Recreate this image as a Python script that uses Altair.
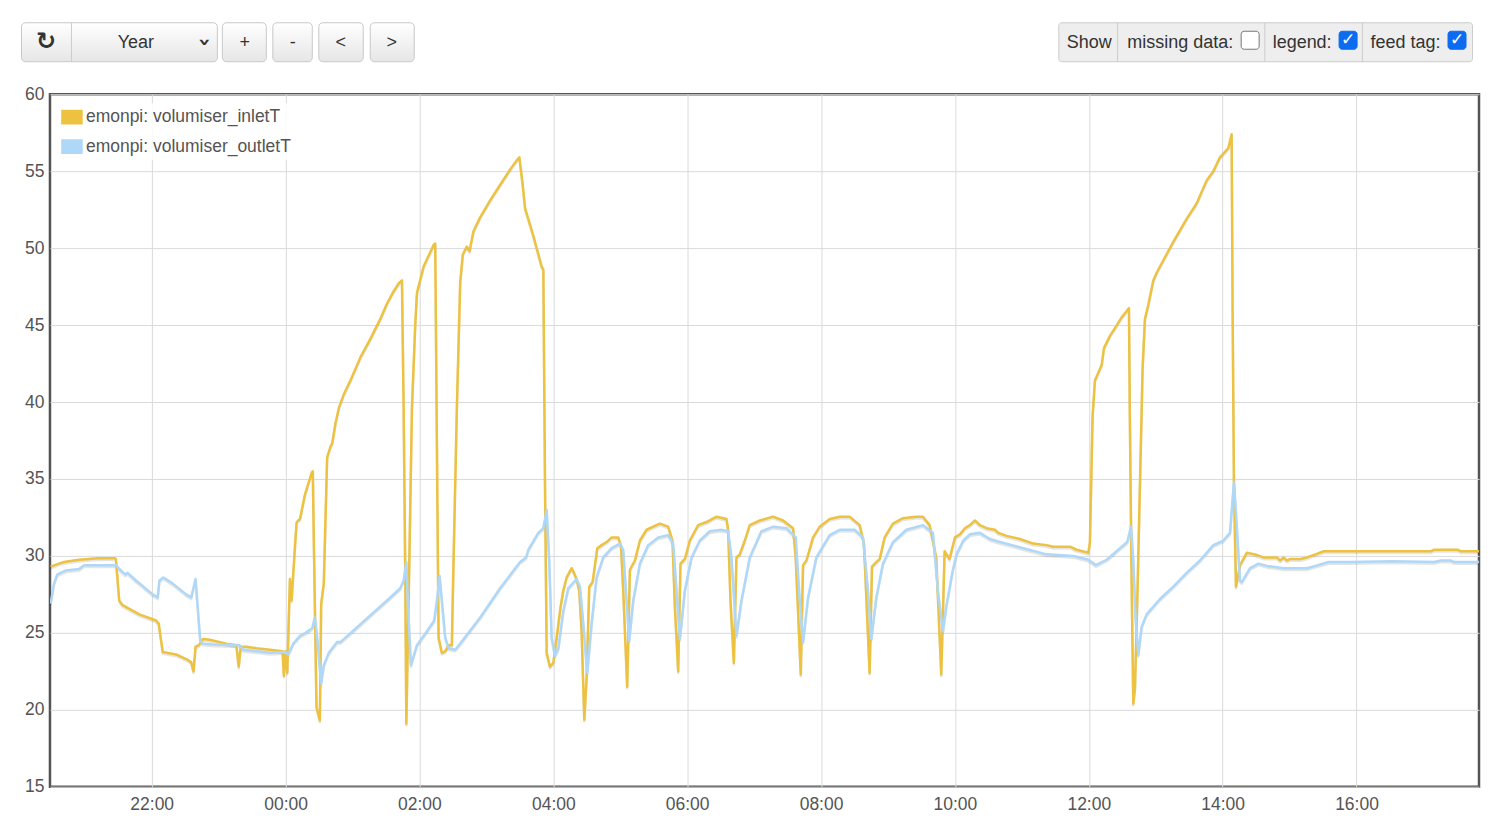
import altair as alt
import pandas as pd

# ---------------- data (hours relative to midnight, values in degC) ----------------
inlet_h = [-3.51, -3.385, -3.31, -3.085, -2.81, -2.56, -2.535, -2.485, -2.435, -2.185,
           -1.935, -1.895, -1.835, -1.635, -1.485, -1.41, -1.375, -1.345, -1.295, -1.235,
           -1.135, -0.885, -0.735, -0.70, -0.67, -0.585, -0.435, -0.235, -0.045, -0.025,
           -0.005, 0.025, 0.065, 0.09, 0.14, 0.165, 0.215, 0.29, 0.39, 0.407,
           0.422, 0.462, 0.512, 0.532, 0.571, 0.621, 0.671, 0.696, 0.745, 0.795,
           0.870, 0.969, 1.118, 1.267, 1.416, 1.516, 1.615, 1.689, 1.739, 1.764,
           1.789, 1.804, 1.839, 1.888, 1.938, 1.963, 2.062, 2.137, 2.211, 2.236,
           2.261, 2.286, 2.335, 2.385, 2.435, 2.484, 2.509, 2.559, 2.609, 2.648,
           2.708, 2.748, 2.807, 2.907, 3.056, 3.205, 3.354, 3.453, 3.493, 3.543,
           3.578, 3.702, 3.826, 3.851, 3.876, 3.901, 3.950, 4.0, 4.05, 4.109,
           4.149, 4.199, 4.274, 4.299, 4.348, 4.388, 4.423, 4.463, 4.498, 4.537,
           4.587, 4.657, 4.721, 4.796, 4.871, 4.970, 5.010, 5.045, 5.104, 5.144,
           5.219, 5.294, 5.393, 5.493, 5.592, 5.716, 5.781, 5.816, 5.866, 5.900,
           5.965, 6.040, 6.164, 6.289, 6.438, 6.587, 6.612, 6.647, 6.697, 6.736,
           6.786, 6.861, 6.935, 7.085, 7.284, 7.433, 7.582, 7.622, 7.697, 7.731,
           7.781, 7.881, 7.980, 8.129, 8.279, 8.428, 8.577, 8.642, 8.677, 8.726,
           8.761, 8.826, 8.876, 8.950, 9.075, 9.224, 9.423, 9.522, 9.622, 9.721,
           9.796, 9.846, 9.920, 10.0, 10.075, 10.149, 10.224, 10.299, 10.374, 10.473,
           10.598, 10.648, 10.772, 10.971, 11.171, 11.370, 11.469, 11.719, 11.818, 11.993,
           12.017, 12.057, 12.092, 12.142, 12.192, 12.227, 12.316, 12.391, 12.491, 12.565,
           12.600, 12.615, 12.640, 12.665, 12.690, 12.725, 12.765, 12.804, 12.839, 12.889,
           12.964, 13.014, 13.163, 13.263, 13.462, 13.611, 13.761, 13.861, 13.960, 14.085,
           14.134, 14.149, 14.169, 14.199, 14.26, 14.36, 14.485, 14.61, 14.81, 14.86,
           14.91, 14.96, 15.01, 15.16, 15.26, 15.385, 15.51, 15.71, 16.16, 16.66,
           17.11, 17.16, 17.51, 17.56, 17.83]
inlet_v = [29.3, 29.5, 29.6, 29.75, 29.85, 29.85, 29.8, 27.1, 26.8, 26.2,
           25.8, 25.6, 23.75, 23.6, 23.3, 23.1, 22.5, 24.1, 24.2, 24.6,
           24.55, 24.3, 24.2, 22.8, 24.1, 24.1, 24.0, 23.9, 23.8, 22.2,
           23.8, 22.4, 28.5, 27.1, 30.6, 32.2, 32.4, 34.0, 35.4, 35.5,
           31.0, 20.2, 19.3, 26.9, 28.2, 36.4, 37.1, 37.3, 38.6, 39.6,
           40.5, 41.4, 42.9, 44.1, 45.4, 46.4, 47.2, 47.7, 47.9, 39.6,
           28.4, 19.1, 27.2, 39.6, 45.1, 47.1, 48.8, 49.5, 50.2, 50.3,
           37.1, 24.7, 23.7, 23.8, 24.2, 24.2, 29.6, 39.6, 47.8, 49.6,
           50.1, 49.8, 51.1, 52.0, 53.1, 54.1, 55.1, 55.7, 55.9, 54.1,
           52.6, 50.8, 48.8, 48.6, 34.6, 23.7, 22.8, 23.05, 24.7, 26.7,
           27.75, 28.6, 29.2, 29.0, 28.5, 27.75, 25.1, 19.35, 22.1, 28.0,
           28.3, 30.5, 30.7, 30.9, 31.2, 31.2, 30.7, 27.75, 21.5, 29.1,
           29.7, 31.0, 31.7, 31.9, 32.1, 31.9, 31.0, 26.7, 22.5, 29.5,
           29.8, 31.0, 32.0, 32.2, 32.55, 32.4, 31.7, 27.1, 23.05, 29.9,
           30.1, 31.0, 32.0, 32.3, 32.55, 32.3, 31.8, 29.9, 22.3, 29.4,
           29.7, 31.2, 31.9, 32.4, 32.55, 32.55, 32.0, 30.8, 27.3, 22.4,
           29.3, 29.6, 29.8, 31.2, 32.1, 32.45, 32.55, 32.55, 32.0, 29.9,
           22.3, 30.3, 29.8, 31.2, 31.4, 31.8, 32.0, 32.3, 32.0, 31.8,
           31.7, 31.5, 31.3, 31.1, 30.8, 30.7, 30.6, 30.6, 30.4, 30.2,
           30.9, 39.1, 41.4, 41.9, 42.4, 43.5, 44.3, 44.8, 45.5, 45.9,
           46.1, 38.4, 28.4, 20.4, 21.4, 27.2, 34.7, 42.2, 45.4, 46.3,
           47.9, 48.4, 49.6, 50.4, 51.9, 52.9, 54.4, 55.0, 55.9, 56.5,
           57.4, 45.9, 34.7, 28.0, 29.4, 30.2, 30.1, 29.9, 29.9, 29.7,
           29.9, 29.7, 29.8, 29.8, 29.9, 30.1, 30.3, 30.3, 30.3, 30.3,
           30.3, 30.4, 30.4, 30.3, 30.3]

outlet_h = [-3.51, -3.46, -3.41, -3.285, -3.085, -3.01, -2.535, -2.46, -2.395, -2.36,
            -2.235, -1.985, -1.91, -1.885, -1.825, -1.685, -1.485, -1.41, -1.345, -1.31,
            -1.275, -1.235, -1.085, -0.685, -0.635, -0.235, -0.01, 0.04, 0.115, 0.215,
            0.298, 0.398, 0.437, 0.472, 0.532, 0.571, 0.646, 0.770, 0.820, 1.565,
            1.714, 1.764, 1.804, 1.839, 1.873, 1.963, 2.112, 2.221, 2.261, 2.301,
            2.335, 2.385, 2.435, 2.534, 2.609, 2.907, 3.205, 3.503, 3.593, 3.627,
            3.776, 3.851, 3.901, 3.940, 3.975, 4.025, 4.075, 4.149, 4.224, 4.348,
            4.398, 4.448, 4.507, 4.572, 4.647, 4.746, 4.871, 4.995, 5.045, 5.085,
            5.134, 5.194, 5.294, 5.418, 5.567, 5.716, 5.791, 5.841, 5.891, 5.965,
            6.065, 6.189, 6.338, 6.512, 6.612, 6.662, 6.736, 6.811, 6.935, 7.109,
            7.284, 7.483, 7.622, 7.672, 7.731, 7.806, 7.930, 8.129, 8.279, 8.502,
            8.627, 8.701, 8.751, 8.826, 8.925, 9.075, 9.274, 9.522, 9.672, 9.746,
            9.821, 9.871, 9.970, 10.025, 10.125, 10.224, 10.374, 10.523, 10.672, 11.021,
            11.370, 11.768, 11.993, 12.107, 12.267, 12.466, 12.575, 12.630, 12.665, 12.700,
            12.740, 12.790, 12.864, 13.064, 13.263, 13.462, 13.661, 13.861, 14.010, 14.110,
            14.169, 14.209, 14.259, 14.285, 14.41, 14.535, 14.66, 14.91, 15.26, 15.385,
            15.585, 15.91, 16.535, 17.16, 17.26, 17.41, 17.46, 17.83]
outlet_v = [26.9, 28.2, 28.8, 29.05, 29.15, 29.4, 29.4, 29.05, 28.8, 28.9,
            28.4, 27.5, 27.3, 28.4, 28.6, 28.2, 27.5, 27.3, 28.5, 26.5,
            24.5, 24.3, 24.25, 24.2, 23.9, 23.7, 23.75, 23.6, 24.3, 24.8,
            25.0, 25.3, 26.0, 24.7, 21.7, 22.9, 23.7, 24.4, 24.4, 27.3,
            27.9, 28.4, 29.6, 25.9, 22.9, 24.2, 25.1, 25.8, 27.1, 28.7,
            27.1, 24.7, 24.0, 23.9, 24.3, 26.0, 27.9, 29.6, 29.9, 30.4,
            31.5, 31.8, 33.0, 29.6, 24.7, 23.5, 24.0, 26.4, 27.9, 28.5,
            28.0, 25.6, 22.4, 25.6, 28.6, 29.9, 30.5, 30.8, 30.4, 27.75,
            24.5, 27.1, 29.5, 30.7, 31.2, 31.35, 30.8, 27.75, 24.6, 27.75,
            29.9, 31.0, 31.6, 31.7, 31.6, 29.9, 24.8, 27.1, 29.9, 31.6,
            31.9, 31.8, 31.2, 27.75, 24.4, 27.3, 29.9, 31.35, 31.7, 31.7,
            31.2, 27.75, 24.6, 27.3, 29.5, 30.9, 31.7, 32.0, 31.5, 27.75,
            25.1, 26.7, 29.1, 30.1, 31.0, 31.4, 31.5, 31.1, 30.9, 30.5,
            30.1, 30.0, 29.75, 29.4, 29.75, 30.5, 30.9, 31.9, 29.7, 25.9,
            23.55, 25.4, 26.2, 27.2, 28.0, 28.9, 29.7, 30.7, 31.0, 31.5,
            34.8, 32.1, 28.4, 28.3, 29.2, 29.5, 29.35, 29.2, 29.2, 29.35,
            29.6, 29.6, 29.65, 29.6, 29.7, 29.7, 29.6, 29.6]

series_names = ["emonpi: volumiser_inletT", "emonpi: volumiser_outletT"]
series_colors = ["#edc240", "#afd8f8"]
y_ticks = [15, 20, 25, 30, 35, 40, 45, 50, 55, 60]

midnight = pd.Timestamp("2024-01-15 00:00:00")


def frame(hours, values, name):
    return pd.DataFrame({
        "time": midnight + pd.to_timedelta(hours, unit="h"),
        "value": values,
        "series": name,
    })


df = pd.concat([frame(inlet_h, inlet_v, series_names[0]),
                frame(outlet_h, outlet_v, series_names[1])], ignore_index=True)

x_values = [alt.DateTime(year=2024, month=1, date=14, hours=22)] + [
    alt.DateTime(year=2024, month=1, date=15, hours=h) for h in range(0, 17, 2)]
x_domain = [alt.DateTime(year=2024, month=1, date=14, hours=20, minutes=28, seconds=48),
            alt.DateTime(year=2024, month=1, date=15, hours=17, minutes=49, seconds=48)]

FONT = "Liberation Sans"

x_enc = alt.X("time:T", scale=alt.Scale(domain=x_domain),
              axis=alt.Axis(values=x_values, format="%H:%M", title=None,
                            labelPadding=9))
y_enc = alt.Y("value:Q", scale=alt.Scale(domain=[15, 60], nice=False, zero=False),
              axis=alt.Axis(values=y_ticks, title=None, labelPadding=6))

color_scale = alt.Scale(domain=series_names, range=series_colors)

# legend carrier: filled swatches (no rows drawn, only the legend)
legend_layer = alt.Chart(df).transform_filter("false").mark_rect(
    opacity=1, stroke="#c4c4c4", strokeWidth=1.5
).encode(
    x=x_enc, y=y_enc,
    fill=alt.Fill(
        "series:N", scale=color_scale,
        legend=alt.Legend(
            title=None, orient="none", legendX=8, legendY=9,
            symbolType="M-1,-0.66H1V0.66H-1Z", symbolSize=400,
            symbolStrokeColor="#c4c4c4", symbolStrokeWidth=1.5, symbolOpacity=1,
            labelFont=FONT, labelFontSize=17.5, labelColor="#545454",
            labelOffset=3, labelLimit=0, rowPadding=8.5, padding=3,
            fillColor="rgba(255,255,255,0.85)",
        ),
    ),
)

shadow = alt.Chart(df).mark_line(
    color="#000000", opacity=0.1, strokeWidth=2.4, yOffset=1.8,
    strokeJoin="round", clip=True
).encode(x=x_enc, y=y_enc, detail="series:N")

lines = alt.Chart(df).mark_line(
    strokeWidth=2.5, strokeJoin="round", clip=True
).encode(
    x=x_enc, y=y_enc,
    color=alt.Color("series:N", scale=color_scale, legend=None),
)

# ---------------- toolbar (page chrome above the plot) ----------------
btn = pd.DataFrame({
    "x0": [-28.5, 172.5, 223.0, 269.0, 320.5],
    "x1": [167.5, 216.5, 262.5, 313.5, 364.5],
    "y0": [-71.5] * 5,
    "y1": [-32.5] * 5,
})
grad = alt.Gradient(gradient="linear", x1=0, x2=0, y1=0, y2=1,
                    stops=[alt.GradientStop(color="#ffffff", offset=0),
                           alt.GradientStop(color="#e6e6e6", offset=1)])
buttons = alt.Chart(btn).mark_rect(
    color=grad, stroke="#c8c8c8", strokeWidth=1, cornerRadius=4
).encode(
    x=alt.X("x0:Q", scale=None, axis=None), x2="x1:Q",
    y=alt.Y("y0:Q", scale=None, axis=None), y2="y1:Q",
)

boxes_df = pd.DataFrame({
    "x0": [1009.5, 1192.0, 1290.0, 1399.0],
    "x1": [1423.5, 1210.0, 1308.0, 1417.0],
    "y0": [-71.5, -63.0, -63.0, -63.0],
    "y1": [-32.5, -45.0, -45.0, -45.0],
    "fill": ["#eeeeee", "#ffffff", "#0b6cf0", "#0b6cf0"],
    "stroke": ["#cccccc", "#767676", "#0b6cf0", "#0b6cf0"],
})
boxes = alt.Chart(boxes_df).mark_rect(strokeWidth=1, cornerRadius=3).encode(
    x=alt.X("x0:Q", scale=None, axis=None), x2="x1:Q",
    y=alt.Y("y0:Q", scale=None, axis=None), y2="y1:Q",
    fill=alt.Fill("fill:N", scale=None, legend=None),
    stroke=alt.Stroke("stroke:N", scale=None, legend=None),
)

div_df = pd.DataFrame({
    "x": [21.5, 1068.3, 1215.7, 1313.3],
    "y0": [-71.5] * 4,
    "y1": [-32.5] * 4,
})
dividers = alt.Chart(div_df).mark_rule(color="#cccccc", strokeWidth=1).encode(
    x=alt.X("x:Q", scale=None, axis=None),
    y=alt.Y("y0:Q", scale=None, axis=None), y2="y1:Q",
)

txt_df = pd.DataFrame({
    "x": [86, 195, 243, 291, 342, 1040, 1131, 1253, 1356.5],
    "y": [-51] * 9,
    "label": ["Year", "+", "-", "<", ">", "Show", "missing data:", "legend:", "feed tag:"],
})
texts = alt.Chart(txt_df).mark_text(
    font=FONT, fontSize=18, color="#333333", align="center", baseline="middle"
).encode(
    x=alt.X("x:Q", scale=None, axis=None),
    y=alt.Y("y:Q", scale=None, axis=None),
    text="label:N",
)

icon_df = pd.DataFrame({
    "x": [-4, 1299, 1408],
    "y": [-52, -54, -54],
    "label": ["\u21bb", "\u2713", "\u2713"],
    "col": ["#333333", "#ffffff", "#ffffff"],
    "size": [24, 17, 17],
})
icons = alt.Chart(icon_df).mark_text(
    font="DejaVu Sans", fontWeight="bold", align="center", baseline="middle"
).encode(
    x=alt.X("x:Q", scale=None, axis=None),
    y=alt.Y("y:Q", scale=None, axis=None),
    text="label:N",
    size=alt.Size("size:Q", scale=None, legend=None),
    color=alt.Color("col:N", scale=None, legend=None),
)

chev_df = pd.DataFrame({"x": [155], "y": [-52], "label": ["\u203a"]})
chevron = alt.Chart(chev_df).mark_text(
    font="DejaVu Sans", fontSize=22, fontWeight="bold", angle=90,
    align="center", baseline="middle", color="#333333"
).encode(
    x=alt.X("x:Q", scale=None, axis=None),
    y=alt.Y("y:Q", scale=None, axis=None),
    text="label:N",
)

chart = alt.layer(legend_layer, shadow, lines, buttons, boxes, dividers, texts, icons,
                  chevron).properties(
    width=1430, height=693,
    autosize=alt.AutoSizeParams(type="none"),
    padding={"left": 42, "top": 86, "right": 10, "bottom": 30},
    background="#ffffff",
).configure_view(
    stroke="#545454", strokeWidth=2.5
).configure_axis(
    grid=True, gridColor="#dadada", gridWidth=1, domain=False, ticks=False,
    labelFont=FONT, labelFontSize=17.5, labelColor="#545454",
)

chart.save("out.html", embed_options={"renderer": "svg", "actions": False})
